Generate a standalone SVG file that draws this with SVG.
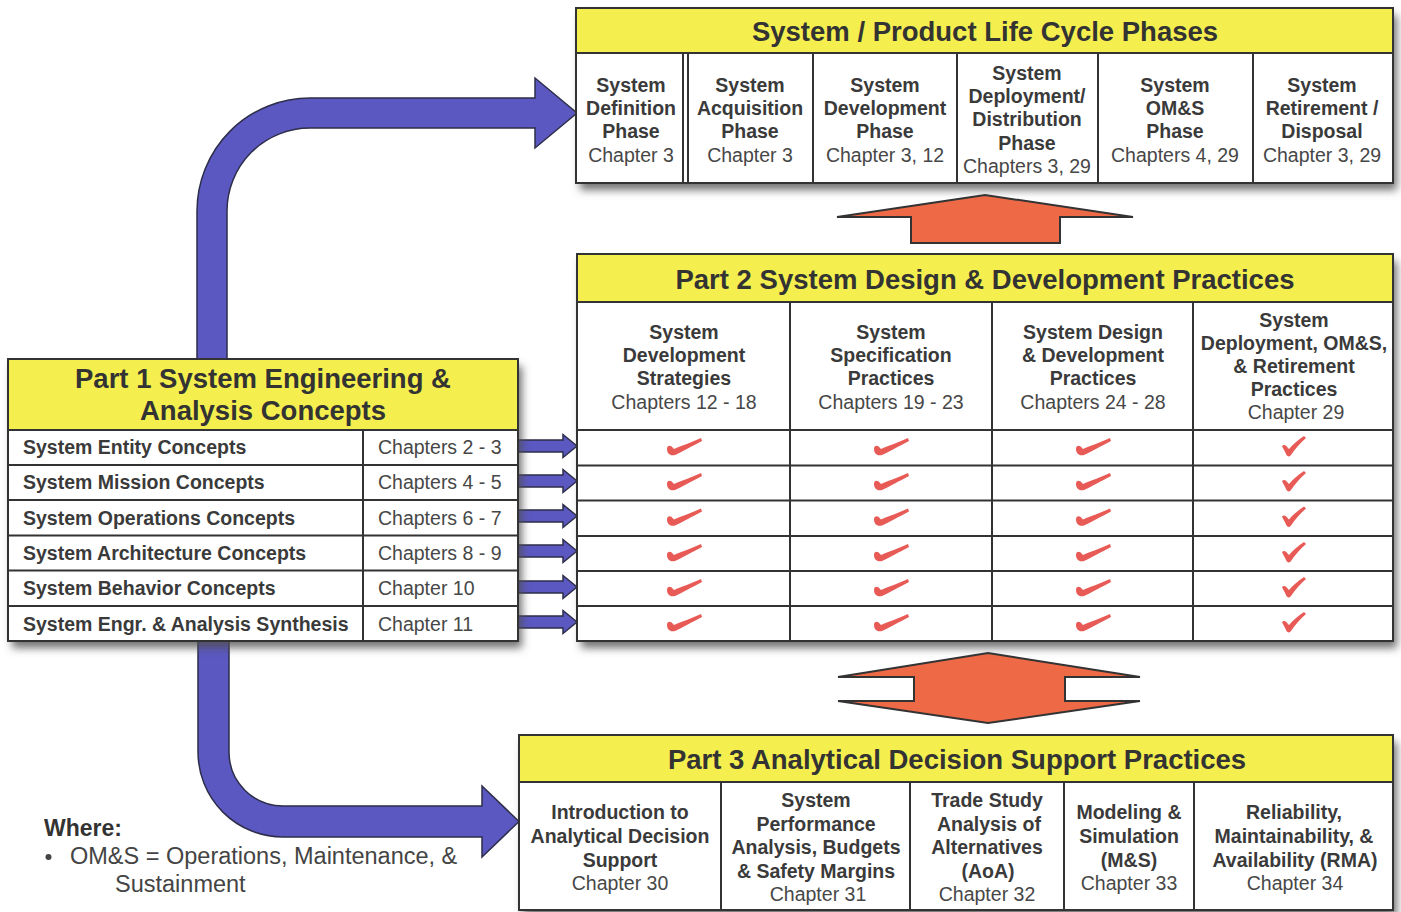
<svg xmlns="http://www.w3.org/2000/svg" xmlns:xlink="http://www.w3.org/1999/xlink" width="1401" height="912" viewBox="0 0 1401 912">
  <style>
    .box { fill: #ffffff; stroke: #333333; stroke-width: 2; }
    .shadowbox { fill: #ffffff; filter: url(#shadow); }
    .hdr { fill: #f4ef4e; stroke: #333333; stroke-width: 2; }
    .ln { stroke: #333333; stroke-width: 2; fill: none; }
    .th { font-family: "Liberation Sans", Arial, sans-serif; font-weight: bold; font-size: 27.5px; fill: #333333; text-anchor: middle; }
    .tb { font-family: "Liberation Sans", Arial, sans-serif; font-weight: bold; font-size: 19.5px; fill: #3a3a3a; text-anchor: middle; }
    .tr { font-family: "Liberation Sans", Arial, sans-serif; font-size: 19.5px; fill: #474747; text-anchor: middle; }
    .tbl { font-family: "Liberation Sans", Arial, sans-serif; font-weight: bold; font-size: 19.5px; fill: #3a3a3a; }
    .trl { font-family: "Liberation Sans", Arial, sans-serif; font-size: 19.5px; fill: #474747; }
    .blue { fill: #5b58c2; stroke: #2e2e4a; stroke-width: 1.5; }
    .orange { fill: #ee6a47; stroke: #333333; stroke-width: 2; stroke-linejoin: miter; }
    .tick { fill: #e85a55; }
  </style>
  <defs>
    <filter id="shadow" x="-5%" y="-5%" width="115%" height="125%">
      <feDropShadow dx="4" dy="7" stdDeviation="4" flood-color="#505050" flood-opacity="0.8"/>
    </filter>
    <!-- hooked check mark used in the first three practice columns -->
    <path id="tick" class="tick" d="M -17,2 C -17,-2 -13,-2 -11,1 L -10,2 C -3,-1 8,-5 17,-9 L 18,-6 C 8,-1 -2,5 -9,8 C -14,9.5 -17,6 -17,2 Z"/>
    <!-- upright check mark used in the last practice column -->
    <path id="tick2" class="tick" d="M -12,-1 C -10,-3 -8,-2 -6,1 L -5,2 C -1,-3 4,-7 10,-11 L 12,-9 C 6,-4 1,2 -3,8 C -4,10 -7,10 -8,7 C -9,4 -11,2 -12,-1 Z"/>
    <!-- small link arrow from a concept row into the practice table -->
    <path id="rowarrow" class="blue" d="M 0,-6 L 45,-6 L 45,-11.5 L 59,0 L 45,11.5 L 45,6 L 0,6 Z"/>
  </defs>

  <rect width="1401" height="912" fill="#ffffff"/>

  <g id="connectors">
    <!-- Part 1 up to the life cycle phases -->
    <path class="blue" d="M 197,362 L 197,211 A 113,113 0 0 1 310,98 L 535,98 L 535,78 L 577,113 L 535,148 L 535,128 L 310,128 A 83,83 0 0 0 227,211 L 227,362 Z"/>
    <!-- Part 1 down to the analytical practices -->
    <path class="blue" d="M 198,638 L 198,752 A 85,85 0 0 0 283,837 L 482,837 L 482,857 L 519,821.5 L 482,786 L 482,806 L 283,806 A 54,54 0 0 1 229,752 L 229,638 Z"/>
    <!-- concept rows into Part 2 -->
    <use xlink:href="#rowarrow" x="518" y="446"/>
    <use xlink:href="#rowarrow" x="518" y="481"/>
    <use xlink:href="#rowarrow" x="518" y="516"/>
    <use xlink:href="#rowarrow" x="518" y="551"/>
    <use xlink:href="#rowarrow" x="518" y="587"/>
    <use xlink:href="#rowarrow" x="518" y="622"/>
    <!-- Part 2 up to the life cycle -->
    <polygon class="orange" points="985,195 1133,217 1060,217 1060,243 911,243 911,217 837,217"/>
    <!-- Part 2 and Part 3 two-way link -->
    <polygon class="orange" points="988,653 1140,677 1065,677 1065,701 1140,701 988,723 838,701 914,701 914,677 838,677"/>
  </g>

  <g id="node-lifecycle">
    <rect class="shadowbox" x="576" y="8" width="817" height="175"/>
    <rect class="box" x="576" y="8" width="817" height="175"/>
    <rect class="hdr" x="576" y="8" width="817" height="45"/>
    <text class="th" x="985" y="41">System / Product Life Cycle Phases</text>
    <line class="ln" x1="683" y1="53" x2="683" y2="183"/>
    <line class="ln" x1="688" y1="53" x2="688" y2="183"/>
    <line class="ln" x1="813" y1="53" x2="813" y2="183"/>
    <line class="ln" x1="957" y1="53" x2="957" y2="183"/>
    <line class="ln" x1="1098" y1="53" x2="1098" y2="183"/>
    <line class="ln" x1="1253" y1="53" x2="1253" y2="183"/>
    <text class="tb" x="631" y="92">System</text>
    <text class="tb" x="631" y="115">Definition</text>
    <text class="tb" x="631" y="138">Phase</text>
    <text class="tr" x="631" y="162">Chapter 3</text>
    <text class="tb" x="750" y="92">System</text>
    <text class="tb" x="750" y="115">Acquisition</text>
    <text class="tb" x="750" y="138">Phase</text>
    <text class="tr" x="750" y="162">Chapter 3</text>
    <text class="tb" x="885" y="92">System</text>
    <text class="tb" x="885" y="115">Development</text>
    <text class="tb" x="885" y="138">Phase</text>
    <text class="tr" x="885" y="162">Chapter 3, 12</text>
    <text class="tb" x="1027" y="80">System</text>
    <text class="tb" x="1027" y="103">Deployment/</text>
    <text class="tb" x="1027" y="126">Distribution</text>
    <text class="tb" x="1027" y="150">Phase</text>
    <text class="tr" x="1027" y="173">Chapters 3, 29</text>
    <text class="tb" x="1175" y="92">System</text>
    <text class="tb" x="1175" y="115">OM&amp;S</text>
    <text class="tb" x="1175" y="138">Phase</text>
    <text class="tr" x="1175" y="162">Chapters 4, 29</text>
    <text class="tb" x="1322" y="92">System</text>
    <text class="tb" x="1322" y="115">Retirement /</text>
    <text class="tb" x="1322" y="138">Disposal</text>
    <text class="tr" x="1322" y="162">Chapter 3, 29</text>
  </g>

  <g id="node-part2">
    <rect class="shadowbox" x="577" y="254" width="816" height="387"/>
    <rect class="box" x="577" y="254" width="816" height="387"/>
    <rect class="hdr" x="577" y="254" width="816" height="48"/>
    <text class="th" x="985" y="289">Part 2 System Design &amp; Development Practices</text>
    <line class="ln" x1="577" y1="430" x2="1393" y2="430"/>
    <line class="ln" x1="577" y1="465.5" x2="1393" y2="465.5"/>
    <line class="ln" x1="577" y1="500.5" x2="1393" y2="500.5"/>
    <line class="ln" x1="577" y1="536" x2="1393" y2="536"/>
    <line class="ln" x1="577" y1="571" x2="1393" y2="571"/>
    <line class="ln" x1="577" y1="606" x2="1393" y2="606"/>
    <line class="ln" x1="790" y1="302" x2="790" y2="641"/>
    <line class="ln" x1="992" y1="302" x2="992" y2="641"/>
    <line class="ln" x1="1193" y1="302" x2="1193" y2="641"/>
    <text class="tb" x="684" y="339">System</text>
    <text class="tb" x="684" y="362">Development</text>
    <text class="tb" x="684" y="385">Strategies</text>
    <text class="tr" x="684" y="409">Chapters 12 - 18</text>
    <text class="tb" x="891" y="339">System</text>
    <text class="tb" x="891" y="362">Specification</text>
    <text class="tb" x="891" y="385">Practices</text>
    <text class="tr" x="891" y="409">Chapters 19 - 23</text>
    <text class="tb" x="1093" y="339">System Design</text>
    <text class="tb" x="1093" y="362">&amp; Development</text>
    <text class="tb" x="1093" y="385">Practices</text>
    <text class="tr" x="1093" y="409">Chapters 24 - 28</text>
    <text class="tb" x="1294" y="327">System</text>
    <text class="tb" x="1294" y="350">Deployment, OM&amp;S,</text>
    <text class="tb" x="1294" y="373">&amp; Retirement</text>
    <text class="tb" x="1294" y="396">Practices</text>
    <text class="tr" x="1296" y="419">Chapter 29</text>
    <g id="checks">
      <use xlink:href="#tick" x="684" y="447"/>
      <use xlink:href="#tick" x="891" y="447"/>
      <use xlink:href="#tick" x="1093" y="447"/>
      <use xlink:href="#tick2" x="1294" y="447"/>
      <use xlink:href="#tick" x="684" y="482"/>
      <use xlink:href="#tick" x="891" y="482"/>
      <use xlink:href="#tick" x="1093" y="482"/>
      <use xlink:href="#tick2" x="1294" y="482"/>
      <use xlink:href="#tick" x="684" y="517.5"/>
      <use xlink:href="#tick" x="891" y="517.5"/>
      <use xlink:href="#tick" x="1093" y="517.5"/>
      <use xlink:href="#tick2" x="1294" y="517.5"/>
      <use xlink:href="#tick" x="684" y="553"/>
      <use xlink:href="#tick" x="891" y="553"/>
      <use xlink:href="#tick" x="1093" y="553"/>
      <use xlink:href="#tick2" x="1294" y="553"/>
      <use xlink:href="#tick" x="684" y="588"/>
      <use xlink:href="#tick" x="891" y="588"/>
      <use xlink:href="#tick" x="1093" y="588"/>
      <use xlink:href="#tick2" x="1294" y="588"/>
      <use xlink:href="#tick" x="684" y="623"/>
      <use xlink:href="#tick" x="891" y="623"/>
      <use xlink:href="#tick" x="1093" y="623"/>
      <use xlink:href="#tick2" x="1294" y="623"/>
    </g>
  </g>

  <g id="node-part1">
    <rect class="shadowbox" x="8" y="359" width="510" height="282"/>
    <rect class="box" x="8" y="359" width="510" height="282"/>
    <rect class="hdr" x="8" y="359" width="510" height="71"/>
    <text class="th" x="263" y="388">Part 1 System Engineering &amp;</text>
    <text class="th" x="263" y="420">Analysis Concepts</text>
    <line class="ln" x1="8" y1="465" x2="518" y2="465"/>
    <line class="ln" x1="8" y1="500" x2="518" y2="500"/>
    <line class="ln" x1="8" y1="535.5" x2="518" y2="535.5"/>
    <line class="ln" x1="8" y1="570.5" x2="518" y2="570.5"/>
    <line class="ln" x1="8" y1="606" x2="518" y2="606"/>
    <line class="ln" x1="363" y1="430" x2="363" y2="641"/>
    <text class="tbl" x="23" y="454">System Entity Concepts</text>
    <text class="tbl" x="23" y="489">System Mission Concepts</text>
    <text class="tbl" x="23" y="524.5">System Operations Concepts</text>
    <text class="tbl" x="23" y="560">System Architecture Concepts</text>
    <text class="tbl" x="23" y="595">System Behavior Concepts</text>
    <text class="tbl" x="23" y="630.5">System Engr. &amp; Analysis Synthesis</text>
    <text class="trl" x="378" y="454">Chapters 2 - 3</text>
    <text class="trl" x="378" y="489">Chapters 4 - 5</text>
    <text class="trl" x="378" y="524.5">Chapters 6 - 7</text>
    <text class="trl" x="378" y="560">Chapters 8 - 9</text>
    <text class="trl" x="378" y="595">Chapter 10</text>
    <text class="trl" x="378" y="630.5">Chapter 11</text>
  </g>

  <g id="node-part3">
    <rect class="shadowbox" x="519" y="735" width="874" height="175"/>
    <rect class="box" x="519" y="735" width="874" height="175"/>
    <rect class="hdr" x="519" y="735" width="874" height="47"/>
    <text class="th" x="957" y="769">Part 3 Analytical Decision Support Practices</text>
    <line class="ln" x1="721" y1="782" x2="721" y2="910"/>
    <line class="ln" x1="910" y1="782" x2="910" y2="910"/>
    <line class="ln" x1="1064" y1="782" x2="1064" y2="910"/>
    <line class="ln" x1="1194" y1="782" x2="1194" y2="910"/>
    <text class="tb" x="620" y="819">Introduction to</text>
    <text class="tb" x="620" y="843">Analytical Decision</text>
    <text class="tb" x="620" y="867">Support</text>
    <text class="tr" x="620" y="890">Chapter 30</text>
    <text class="tb" x="816" y="807">System</text>
    <text class="tb" x="816" y="831">Performance</text>
    <text class="tb" x="816" y="854">Analysis, Budgets</text>
    <text class="tb" x="816" y="878">&amp; Safety Margins</text>
    <text class="tr" x="818" y="901">Chapter 31</text>
    <text class="tb" x="987" y="807">Trade Study</text>
    <text class="tb" x="989" y="831">Analysis of</text>
    <text class="tb" x="987" y="854">Alternatives</text>
    <text class="tb" x="988" y="878">(AoA)</text>
    <text class="tr" x="987" y="901">Chapter 32</text>
    <text class="tb" x="1129" y="819">Modeling &amp;</text>
    <text class="tb" x="1129" y="843">Simulation</text>
    <text class="tb" x="1129" y="867">(M&amp;S)</text>
    <text class="tr" x="1129" y="890">Chapter 33</text>
    <text class="tb" x="1294" y="819">Reliability,</text>
    <text class="tb" x="1294" y="843">Maintainability, &amp;</text>
    <text class="tb" x="1295" y="867">Availability (RMA)</text>
    <text class="tr" x="1295" y="890">Chapter 34</text>
  </g>

  <g id="legend">
    <text x="44" y="836" font-family="Liberation Sans, Arial, sans-serif" font-weight="bold" font-size="23" fill="#333333">Where:</text>
    <circle cx="48.5" cy="857" r="3" fill="#444444"/>
    <text x="70" y="864" font-family="Liberation Sans, Arial, sans-serif" font-size="23.5" fill="#444444">OM&amp;S = Operations, Maintenance, &amp;</text>
    <text x="115" y="892" font-family="Liberation Sans, Arial, sans-serif" font-size="23.5" fill="#444444">Sustainment</text>
  </g>
</svg>
